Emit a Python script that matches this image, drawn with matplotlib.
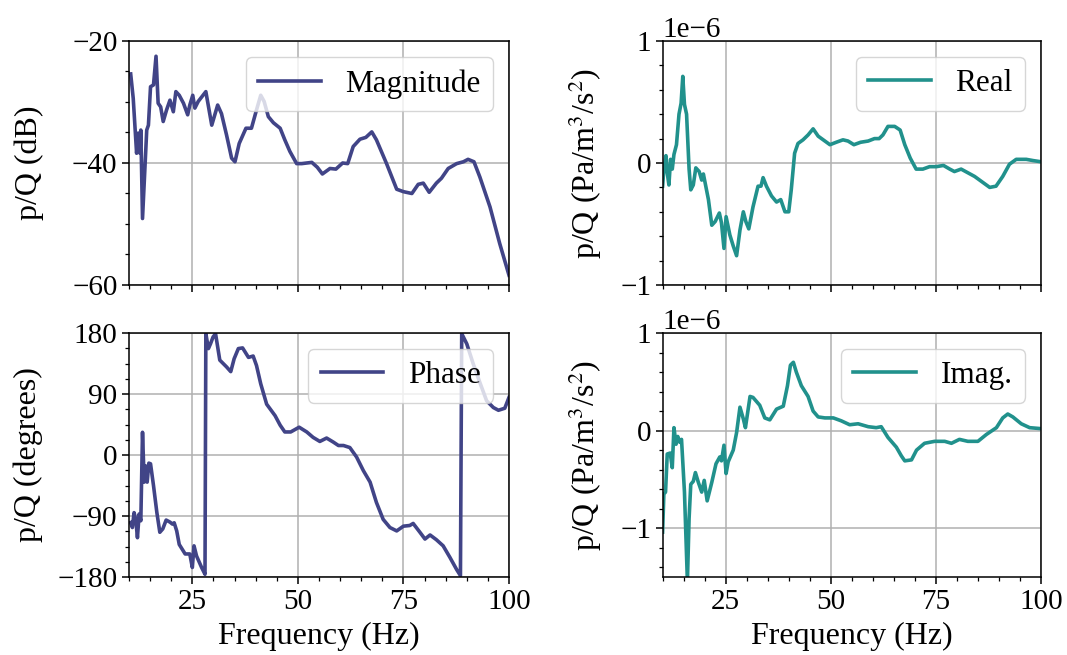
import matplotlib
matplotlib.use("Agg")
import matplotlib.pyplot as plt
from matplotlib.ticker import MultipleLocator
import numpy as np

# ---------------- data ----------------
mag_freq = [10.4, 11.0, 11.8, 12.2, 12.6, 12.8, 13.2, 14.2, 14.6, 15.1, 15.8, 16.4, 16.9, 17.5,
            18.1, 18.9, 19.7, 20.5, 21.1, 21.9, 22.9, 23.9, 24.4, 25.1, 25.6, 26.4, 28.2, 29.6,
            31.0, 31.9, 33.1, 34.3, 35.1, 36.1, 37.7, 39.0, 40.2, 41.2, 42.0, 43.0, 44.2, 45.8,
            46.9, 48.1, 49.7, 50.9, 53.3, 54.6, 55.8, 57.6, 59.0, 60.6, 61.8, 63.1, 64.7, 66.1,
            67.5, 68.6, 71.0, 73.4, 75.0, 77.0, 78.5, 79.7, 81.1, 82.8, 84.0, 85.6, 87.6, 89.2,
            90.3, 91.7, 93.1, 95.5, 97.8, 100.0]
mag_db = [-25.4, -29.4, -38.4, -35.1, -38.4, -34.6, -49.1, -34.6, -33.8, -27.5, -27.2, -22.5, -30.2, -30.8,
          -33.2, -31.3, -29.7, -31.6, -28.3, -28.9, -30.2, -32.1, -30.5, -28.9, -31.0, -29.9, -28.3, -33.8,
          -30.5, -31.9, -35.4, -39.2, -39.8, -36.8, -34.3, -34.3, -31.3, -28.9, -29.9, -32.4, -33.4, -34.3,
          -36.2, -38.1, -40.1, -40.1, -39.9, -40.7, -41.8, -40.9, -41.0, -40.0, -40.1, -37.3, -36.1, -35.8,
          -34.9, -36.2, -40.1, -44.3, -44.7, -45.0, -43.5, -43.3, -44.8, -43.3, -42.5, -40.9, -40.1, -39.8,
          -39.4, -39.8, -42.3, -47.2, -53.2, -58.4]

phase_freq = [10.4, 10.8, 11.2, 11.6, 12.0, 12.4, 12.8, 13.2, 13.6, 13.9, 14.3, 14.7, 15.1, 15.8,
              16.6, 17.3, 18.0, 18.8, 19.7, 20.3, 20.7, 21.3, 21.9, 23.3, 24.4, 25.0, 25.4, 26.0,
              27.2, 28.0, 28.2, 28.8, 29.3, 29.9, 30.5, 31.5, 33.1, 34.1, 34.9, 35.9, 36.9, 38.3,
              39.4, 40.2, 41.2, 42.6, 44.6, 45.8, 46.9, 48.3, 50.3, 52.1, 53.6, 55.2, 56.8, 58.4,
              59.6, 60.8, 62.3, 63.9, 65.5, 67.1, 68.6, 70.2, 71.8, 73.4, 75.0, 76.5, 77.3, 78.9,
              80.1, 81.3, 82.8, 84.4, 86.0, 87.6, 88.5, 88.8, 90.0, 91.5, 93.1, 94.7, 96.3, 97.5,
              99.0, 100.0]
phase_deg = [-99.6, -107, -85, -95, -122, -87, -97, 33.5, -40, -16, -40, -12, -13, -45,
             -85, -114, -109, -96, -99, -102, -100, -112, -132, -146, -146, -166, -134, -149,
             -166, -176, 179, 157, 164, 174, 179, 140, 130, 123, 142, 157, 158, 144,
             146, 132, 105, 75, 58, 44, 34, 34, 41, 34, 26, 20, 25, 19,
             14, 14, 11, -3, -23, -40, -70, -95, -107, -112, -105, -104, -101, -114,
             -124, -118, -125, -134, -151, -169, -178, 179, 164, 135, 107, 80, 70, 66,
             69, 85]

real_freq = [10.0, 10.3, 10.8, 11.1, 11.5, 11.9, 12.3, 12.7, 13.3, 13.9, 14.4, 14.8, 15.2, 15.7,
             16.3, 16.7, 17.3, 17.9, 18.7, 19.3, 19.7, 20.1, 20.9, 21.7, 22.5, 23.5, 24.0, 24.6,
             25.1, 26.0, 26.8, 27.6, 28.4, 29.2, 29.8, 30.5, 31.5, 32.7, 33.4, 33.9, 34.7, 35.9,
             37.1, 38.1, 39.1, 40.0, 40.6, 41.4, 42.2, 43.4, 44.6, 45.8, 47.0, 48.6, 49.8, 51.3,
             52.9, 54.1, 55.5, 57.1, 58.9, 60.4, 61.5, 62.4, 63.6, 65.2, 66.5, 67.6, 68.9, 70.3,
             71.9, 73.5, 75.1, 76.8, 78.3, 79.4, 81.0, 82.6, 84.2, 86.2, 87.8, 89.3, 90.9, 92.5,
             94.1, 96.5, 98.1, 100.0]
real_val = [-0.19, -0.05, 0.06, -0.08, -0.18, 0.03, -0.05, 0.07, 0.15, 0.40, 0.49, 0.71, 0.48, 0.40,
            -0.05, -0.22, -0.18, -0.04, -0.07, -0.14, -0.09, -0.16, -0.30, -0.51, -0.48, -0.41, -0.49, -0.70,
            -0.44, -0.59, -0.68, -0.76, -0.55, -0.40, -0.48, -0.54, -0.36, -0.19, -0.19, -0.12, -0.19, -0.27,
            -0.32, -0.30, -0.40, -0.40, -0.22, 0.08, 0.16, 0.19, 0.23, 0.28, 0.22, 0.18, 0.15, 0.17,
            0.19, 0.18, 0.15, 0.17, 0.18, 0.20, 0.20, 0.23, 0.30, 0.30, 0.27, 0.15, 0.04, -0.05,
            -0.05, -0.03, -0.03, -0.02, -0.05, -0.07, -0.05, -0.08, -0.11, -0.16, -0.20, -0.19, -0.11, -0.01,
            0.03, 0.03, 0.02, 0.01]

imag_freq = [10.0, 10.3, 10.7, 11.1, 11.8, 12.3, 12.7, 13.2, 13.6, 14.1, 14.5, 15.2, 15.9, 16.3,
             16.7, 17.3, 17.8, 18.5, 19.3, 19.9, 20.6, 21.7, 22.7, 23.6, 24.0, 24.6, 25.1, 25.6,
             26.8, 27.6, 28.4, 29.2, 29.7, 30.8, 31.5, 33.1, 34.3, 35.5, 37.1, 38.7, 39.7, 40.4,
             41.1, 41.8, 43.0, 44.6, 45.8, 47.0, 48.6, 50.6, 52.5, 54.5, 56.5, 58.9, 60.8, 62.0,
             63.6, 65.6, 66.8, 67.6, 69.2, 70.4, 72.3, 74.7, 77.1, 78.7, 80.6, 82.6, 85.0, 87.0,
             89.4, 90.9, 92.1, 93.3, 95.3, 97.3, 100.0]
imag_val = [-1.04, -0.65, -0.63, -0.24, -0.23, -0.38, 0.03, -0.14, -0.06, -0.12, -0.09, -0.63, -1.55, -0.90,
            -0.55, -0.52, -0.43, -0.53, -0.63, -0.51, -0.72, -0.53, -0.34, -0.27, -0.31, -0.15, -0.44, -0.32,
            -0.20, -0.02, 0.24, 0.12, 0.03, 0.35, 0.34, 0.26, 0.13, 0.11, 0.22, 0.25, 0.46, 0.67,
            0.70, 0.60, 0.46, 0.35, 0.20, 0.14, 0.13, 0.13, 0.10, 0.06, 0.07, 0.04, 0.03, 0.04,
            -0.07, -0.17, -0.26, -0.31, -0.30, -0.20, -0.13, -0.11, -0.11, -0.13, -0.09, -0.11, -0.11, -0.04,
            0.03, 0.13, 0.17, 0.14, 0.07, 0.03, 0.02]

SCALE = 1e-6
C_DARK = "#414487"
C_TEAL = "#21918c"

# ---------------- style ----------------
plt.rcParams.update({
    "font.family": ["Liberation Serif", "DejaVu Serif"],
    "mathtext.fontset": "stix",
    "font.size": 21,
    "axes.labelsize": 23,
    "legend.fontsize": 22.5,
    "axes.linewidth": 1.1,
    "xtick.major.size": 4.8, "ytick.major.size": 4.8,
    "xtick.minor.size": 2.9, "ytick.minor.size": 2.9,
    "xtick.major.width": 1.1, "ytick.major.width": 1.1,
    "xtick.minor.width": 0.9, "ytick.minor.width": 0.9,
    "grid.linewidth": 1.1,
    "grid.color": "#b0b0b0",
    "axes.unicode_minus": True,
})

fig = plt.figure(figsize=(10.67, 6.55), dpi=100)
W = 380 / 1067
H = 244 / 655
ax_mag = fig.add_axes([129 / 1067, 1 - 285 / 655, W, H])
ax_ph = fig.add_axes([129 / 1067, 1 - 577 / 655, W, H])
ax_re = fig.add_axes([662.6 / 1067, 1 - 285 / 655, 378.4 / 1067, H])
ax_im = fig.add_axes([662.6 / 1067, 1 - 577 / 655, 378.4 / 1067, H])

lw = 2.6
ax_mag.plot(mag_freq, mag_db, color=C_DARK, lw=lw, label="Magnitude")
ax_ph.plot(phase_freq, phase_deg, color=C_DARK, lw=lw, label="Phase")
ax_re.plot(real_freq, np.array(real_val) * SCALE, color=C_TEAL, lw=lw, label="Real")
ax_im.plot(imag_freq, np.array(imag_val) * SCALE, color=C_TEAL, lw=lw, label="Imag.")

for ax in (ax_mag, ax_ph, ax_re, ax_im):
    ax.set_xlim(10, 100)
    ax.set_xticks([25, 50, 75, 100])
    ax.xaxis.set_minor_locator(MultipleLocator(5))
    ax.grid(True, which="major")
    ax.legend(loc="upper right")

ax_mag.set_ylim(-60, -20)
ax_mag.set_yticks([-60, -40, -20])
ax_mag.yaxis.set_minor_locator(MultipleLocator(5))
ax_mag.set_ylabel("p/Q (dB)")
ax_mag.tick_params(axis="x", labelbottom=False)

ax_ph.set_ylim(-180, 180)
ax_ph.set_yticks([-180, -90, 0, 90, 180])
ax_ph.yaxis.set_minor_locator(MultipleLocator(22.5))
ax_ph.set_ylabel("p/Q (degrees)")
ax_ph.set_xlabel("Frequency (Hz)", labelpad=5)

ax_re.set_ylim(-1e-6, 1e-6)
ax_re.set_yticks([-1e-6, 0, 1e-6])
ax_re.yaxis.set_minor_locator(MultipleLocator(0.2e-6))
ax_re.set_ylabel(r"p/Q (Pa/m$^3$/s$^2$)")
ax_re.tick_params(axis="x", labelbottom=False)

ax_im.set_ylim(-1.5e-6, 1e-6)
ax_im.set_yticks([-1e-6, 0, 1e-6])
ax_im.yaxis.set_minor_locator(MultipleLocator(0.2e-6))
ax_im.set_ylabel(r"p/Q (Pa/m$^3$/s$^2$)")
ax_im.set_xlabel("Frequency (Hz)", labelpad=5)

for ax in (ax_mag, ax_ph):
    ax.yaxis.set_label_coords(-0.225, 0.5)
for ax in (ax_re, ax_im):
    ax.yaxis.set_label_coords(-0.155, 0.5)

fig.savefig("out.png", dpi=100)
